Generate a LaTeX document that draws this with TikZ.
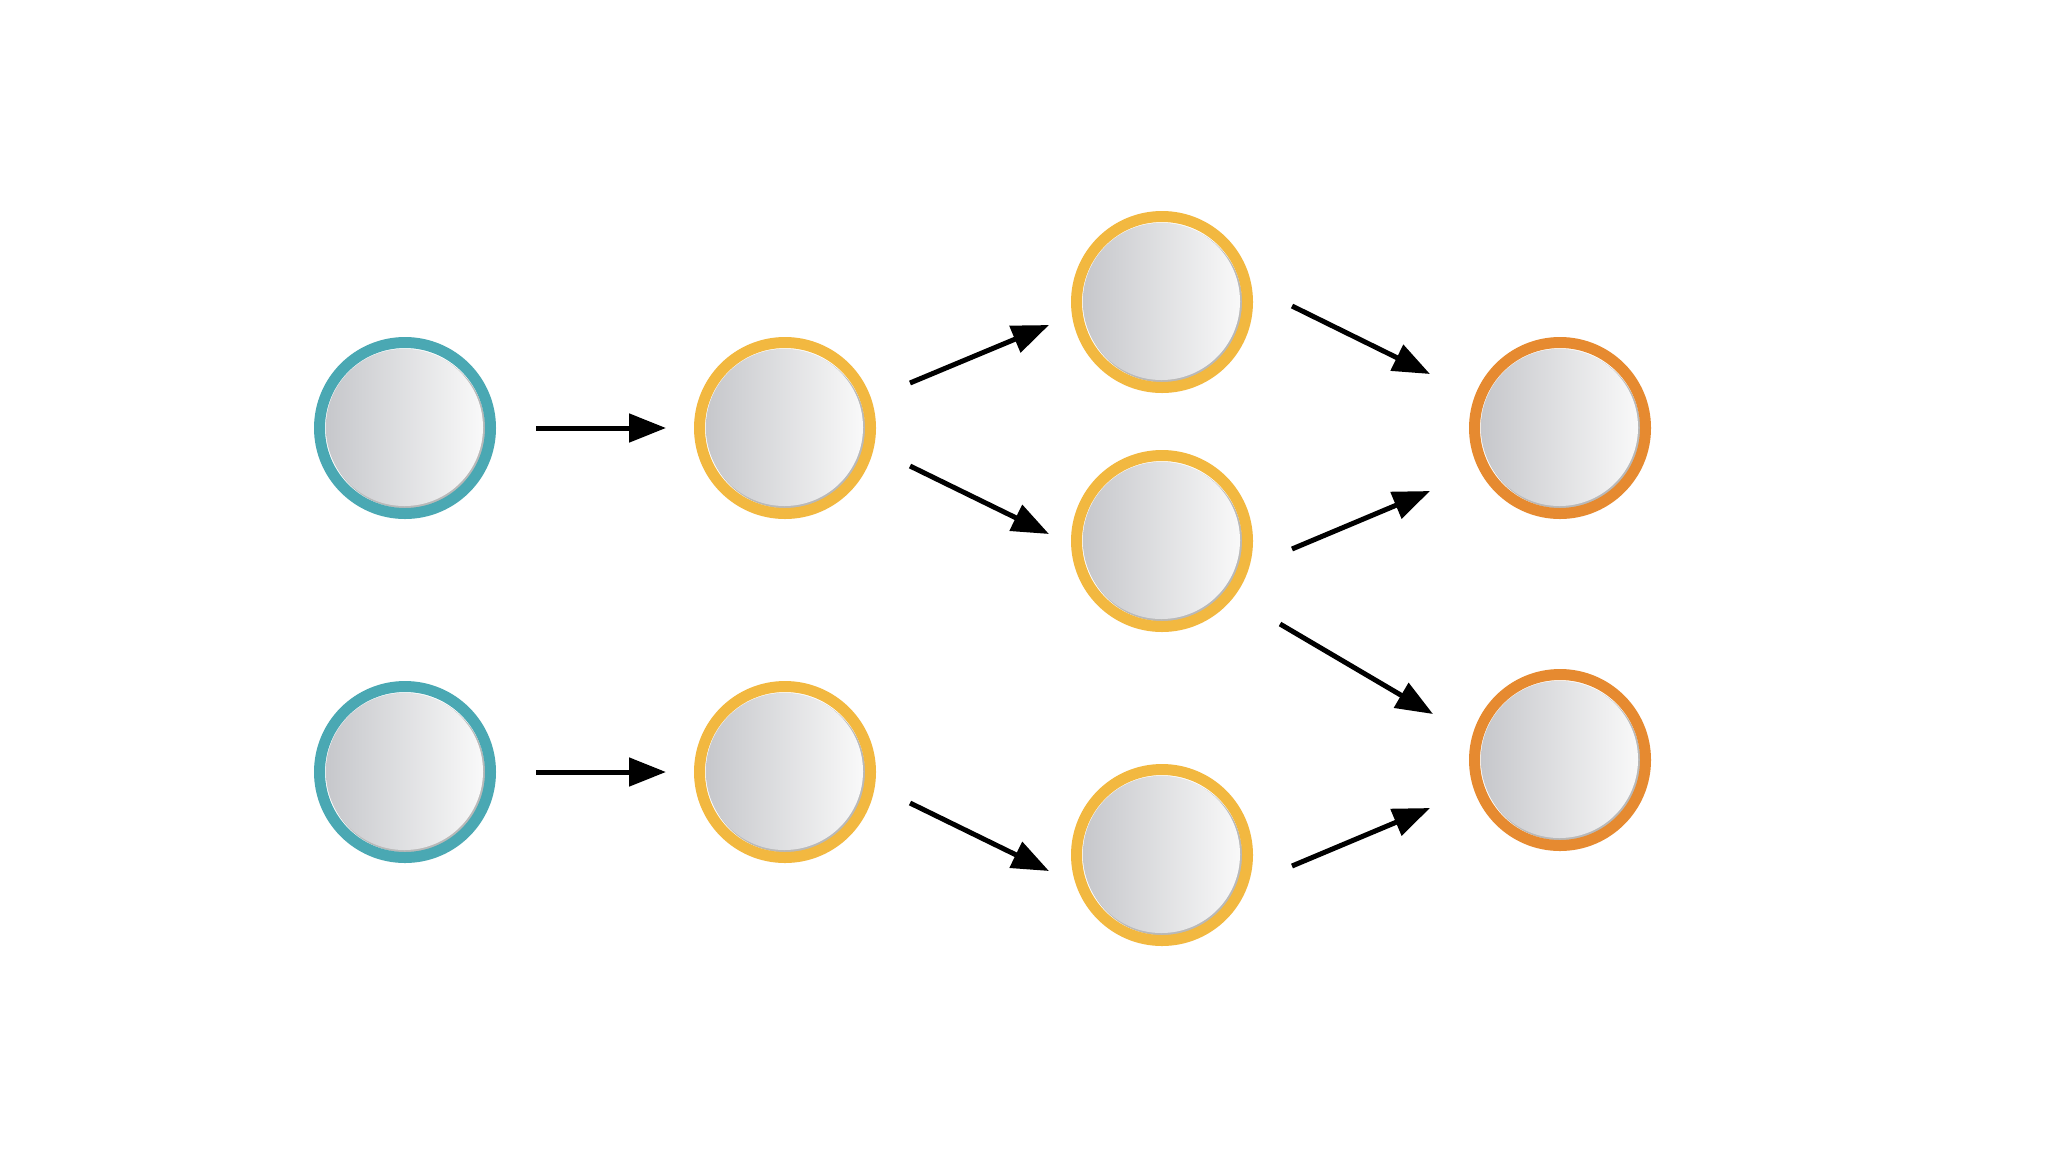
\documentclass[tikz,border=0pt]{standalone}
\usetikzlibrary{arrows.meta,calc}
\definecolor{tealc}{RGB}{74,168,179}
\definecolor{yellc}{RGB}{242,184,64}
\definecolor{orac}{RGB}{230,138,48}
\definecolor{shl}{RGB}{198,199,203}
\definecolor{shr}{RGB}{249,249,249}
\tikzset{
  ball/.style={circle, draw=#1, line width=5.5pt, minimum size=85.5pt, inner sep=0pt, outer sep=0pt,
    path picture={
      \fill[white] (path picture bounding box.center) circle (40.5pt);
      \fill[gray!55] ($(path picture bounding box.center)+(0.6pt,-0.6pt)$) circle (39.6pt);
      \shade[left color=shl, right color=shr] ($(path picture bounding box.center)+(-0.3pt,0.3pt)$) circle (39.3pt);
    }},
  arr/.style={line width=2.5pt, -{Triangle[length=18.5pt,width=14pt]}}
}
\begin{document}
\begin{tikzpicture}[x=0.5pt,y=-0.5pt]
\fill[white] (0,0) rectangle (2048,1152);
\useasboundingbox (0,0) rectangle (2048,1152);
% nodes
\node[ball=tealc] (t1) at (405,428) {};
\node[ball=tealc] (t2) at (405,772) {};
\node[ball=yellc] (y1) at (785,428) {};
\node[ball=yellc] (y2) at (785,772) {};
\node[ball=yellc] (m1) at (1162,302) {};
\node[ball=yellc] (m2) at (1162,541) {};
\node[ball=yellc] (m3) at (1162,855) {};
\node[ball=orac] (o1) at (1560,428) {};
\node[ball=orac] (o2) at (1560,760) {};
% connectors
\draw[arr] ($(t1)+(131,0)$) -- ($(y1)+(-119,0)$);
\draw[arr] ($(t2)+(131,0)$) -- ($(y2)+(-119,0)$);
\draw[arr] ($(y1)+(125,-45)$) -- ($(m1)+(-113,23)$);
\draw[arr] ($(y1)+(125,38)$) -- ($(m2)+(-113,-7)$);
\draw[arr] ($(y2)+(125,31)$) -- ($(m3)+(-113,16)$);
\draw[arr] ($(m1)+(130,4)$) -- ($(o1)+(-130,-54)$);
\draw[arr] ($(m2)+(130,8)$) -- ($(o1)+(-130,63)$);
\draw[arr] ($(m2)+(118,83)$) -- ($(o2)+(-127,-46)$);
\draw[arr] ($(m3)+(130,11)$) -- ($(o2)+(-130,48)$);
\end{tikzpicture}
\end{document}
